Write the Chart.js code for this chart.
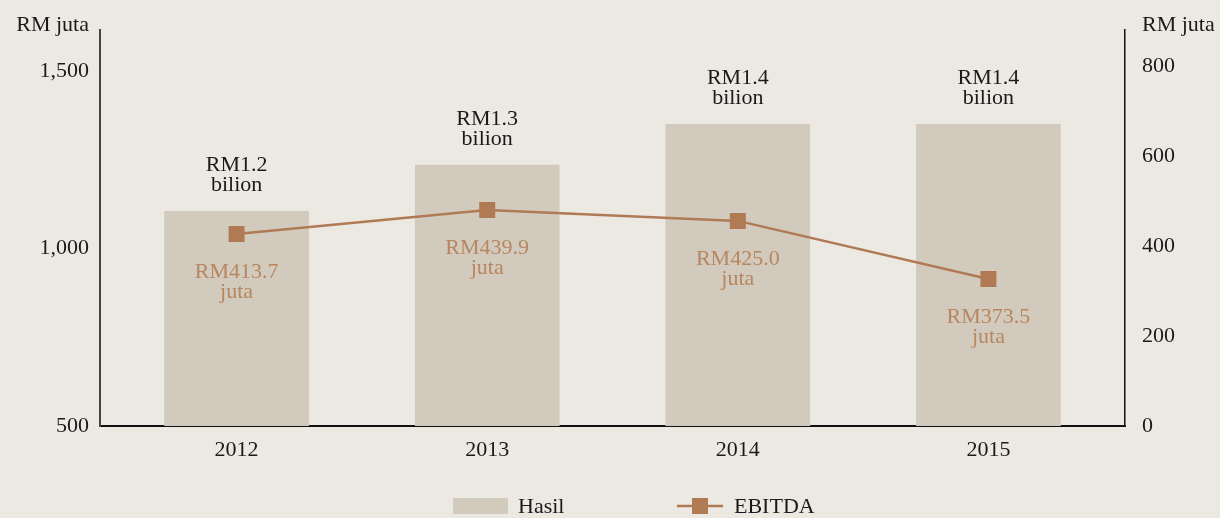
<!DOCTYPE html>
<html>
<head>
<meta charset="utf-8">
<script src="https://cdn.jsdelivr.net/npm/chart.js@4"></script>
<style>
  html, body { margin: 0; padding: 0; background: #ECE9E3; }
  #wrap { width: 1220px; height: 518px; }
</style>
</head>
<body>
<div id="wrap"><canvas id="chart" width="1220" height="518"></canvas></div>
<script>
// data
const years = ['2012', '2013', '2014', '2015'];
const hasil = [1105, 1235, 1350, 1350];          // RM juta, left axis
const ebitda = [427, 480, 456, 327];              // RM juta, right axis
const hasilLabels = [['RM1.2', 'bilion'], ['RM1.3', 'bilion'], ['RM1.4', 'bilion'], ['RM1.4', 'bilion']];
const ebitdaLabels = [['RM413.7', 'juta'], ['RM439.9', 'juta'], ['RM425.0', 'juta'], ['RM373.5', 'juta']];
const leftTicks = [500, 1000, 1500];
const rightTicks = [0, 200, 400, 600, 800];

const FONT = '"Liberation Serif", "DejaVu Serif", serif';
const FS = 22;
const BAR = '#D2CABD';
const LINE = '#B07A55';
const LINE_TEXT = '#B8865F';

// custom text + legend drawing
const annotate = {
  id: 'annotate',
  afterDatasetsDraw(chart) {
    const ctx = chart.ctx;
    const area = chart.chartArea;
    ctx.save();
    ctx.font = FS + 'px ' + FONT;
    ctx.textAlign = 'center';
    ctx.textBaseline = 'alphabetic';

    // bar labels
    const barMeta = chart.getDatasetMeta(0);
    barMeta.data.forEach((bar, i) => {
      ctx.fillStyle = '#1a1a1a';
      ctx.fillText(hasilLabels[i][0], bar.x, bar.y - 40);
      ctx.fillText(hasilLabels[i][1], bar.x, bar.y - 20);
    });

    // line labels
    const lineMeta = chart.getDatasetMeta(1);
    lineMeta.data.forEach((pt, i) => {
      ctx.fillStyle = LINE_TEXT;
      ctx.fillText(ebitdaLabels[i][0], pt.x, pt.y + 44);
      ctx.fillText(ebitdaLabels[i][1], pt.x, pt.y + 64);
    });

    // axis titles
    ctx.fillStyle = '#1a1a1a';
    ctx.textAlign = 'right';
    ctx.fillText('RM juta', area.left - 11, 31);
    ctx.textAlign = 'left';
    ctx.fillText('RM juta', area.right + 17, 31);

    // legend
    const ly = 506;
    ctx.fillStyle = BAR;
    ctx.fillRect(453, ly - 8, 55, 16);
    ctx.fillStyle = '#1a1a1a';
    ctx.textBaseline = 'middle';
    ctx.fillText('Hasil', 518, ly + 1);

    ctx.strokeStyle = LINE;
    ctx.lineWidth = 2.5;
    ctx.beginPath();
    ctx.moveTo(677, ly);
    ctx.lineTo(723, ly);
    ctx.stroke();
    ctx.fillStyle = LINE;
    ctx.fillRect(692, ly - 8, 16, 16);
    ctx.fillStyle = '#1a1a1a';
    ctx.fillText('EBITDA', 734, ly + 1);
    ctx.restore();
  }
};

new Chart(document.getElementById('chart'), {
  data: {
    datasets: [
      {
        type: 'bar',
        label: 'Hasil',
        data: hasil.map((v, i) => ({ x: i, y: v })),
        yAxisID: 'y',
        backgroundColor: BAR,
        barThickness: 144,
        order: 2
      },
      {
        type: 'line',
        label: 'EBITDA',
        data: ebitda.map((v, i) => ({ x: i, y: v })),
        yAxisID: 'y1',
        borderColor: LINE,
        borderWidth: 2.5,
        backgroundColor: LINE,
        pointStyle: 'rect',
        pointRadius: 11.3,
        pointHoverRadius: 11.3,
        pointBorderWidth: 0,
        tension: 0,
        order: 1
      }
    ]
  },
  options: {
    responsive: false,
    animation: false,
    layout: { padding: { top: 30, left: 0, right: 0, bottom: 0 } },
    plugins: {
      legend: { display: false },
      tooltip: { enabled: false }
    },
    scales: {
      x: {
        type: 'linear',
        min: -0.545,
        max: 3.545,
        offset: false,
        afterBuildTicks: (s) => { s.ticks = years.map((y, i) => ({ value: i })); },
        grid: { display: false, drawTicks: false },
        border: { color: '#111', width: 2 },
        ticks: {
          color: '#1a1a1a',
          font: { family: FONT, size: FS },
          padding: 11,
          callback: (v) => years[v]
        },
        afterFit: (s) => { s.height = 92; }
      },
      y: {
        position: 'left',
        min: 500,
        max: 1615,
        afterBuildTicks: (s) => { s.ticks = leftTicks.map(v => ({ value: v })); },
        grid: { display: false, drawTicks: false },
        border: { color: '#444', width: 2 },
        ticks: {
          color: '#1a1a1a',
          font: { family: FONT, size: FS },
          padding: 11,
          callback: (v) => v.toLocaleString('en-US')
        },
        afterFit: (s) => { s.width = 100; }
      },
      y1: {
        position: 'right',
        min: 0,
        max: 880,
        afterBuildTicks: (s) => { s.ticks = rightTicks.map(v => ({ value: v })); },
        grid: { display: false, drawTicks: false },
        border: { color: '#111', width: 1.5 },
        ticks: { color: '#1a1a1a', font: { family: FONT, size: FS }, padding: 17 },
        afterFit: (s) => { s.width = 95; }
      }
    }
  },
  plugins: [annotate]
});
</script>
</body>
</html>
